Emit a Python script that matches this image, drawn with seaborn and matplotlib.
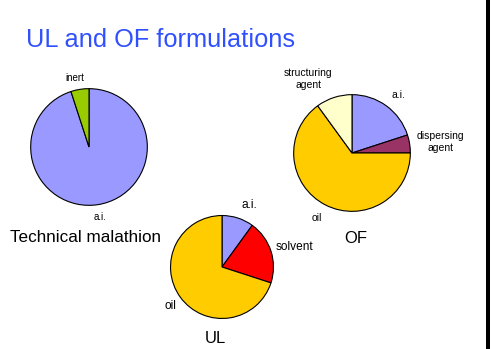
import matplotlib
matplotlib.use("Agg")
import matplotlib.pyplot as plt
import seaborn as sns
from matplotlib.patches import Rectangle

sns.set_theme(style="white")
plt.rcParams['font.family'] = ['Liberation Sans', 'DejaVu Sans']

# ---- data ----
title = "UL and OF formulations"

tech_labels = ["a.i.", "inert"]
tech_values = [95, 5]
tech_colors = ["#9999FF", "#99CC00"]
tech_caption = "Technical malathion"

of_labels = ["a.i.", "dispersing\nagent", "oil", "structuring\nagent"]
of_values = [20, 5, 65, 10]
of_colors = ["#9999FF", "#993366", "#FFCC00", "#FFFFCC"]
of_caption = "OF"

ul_labels = ["a.i.", "solvent", "oil"]
ul_values = [10, 20, 70]
ul_colors = ["#9999FF", "#FF0000", "#FFCC00"]
ul_caption = "UL"

W, H = 491, 349
fig = plt.figure(figsize=(W / 100, H / 100), dpi=100)
fig.patch.set_facecolor("white")


def px(x, y):
    return x / W, (H - y) / H


def pie_axes(cx, cy, r):
    ax = fig.add_axes([(cx - r) / W, (H - cy - r) / H, 2 * r / W, 2 * r / H])
    ax.set_xlim(-1, 1)
    ax.set_ylim(-1, 1)
    ax.set_aspect("equal")
    ax.axis("off")
    return ax


def draw_pie(ax, values, colors):
    ax.pie(values, colors=colors, startangle=90, counterclock=False, radius=1,
           wedgeprops=dict(edgecolor="black", linewidth=0.8))
    ax.set_xlim(-1.02, 1.02)
    ax.set_ylim(-1.02, 1.02)


# Technical malathion
ax1 = pie_axes(89, 147, 59.5)
draw_pie(ax1, tech_values, tech_colors)
tech_pos = [(100, 217), (75, 78)]
for lab, (x, y) in zip(tech_labels, tech_pos):
    fig.text(*px(x, y), lab, ha="center", va="center", fontsize=7, color="black")
fig.text(*px(10, 242), tech_caption, ha="left", va="baseline", fontsize=12.3, color="black")

# OF
ax2 = pie_axes(352, 153, 59.5)
draw_pie(ax2, of_values, of_colors)
of_pos = [(398, 95), (440, 142), (317, 218), (308, 79.5)]
for lab, (x, y) in zip(of_labels, of_pos):
    fig.text(*px(x, y), lab, ha="center", va="center", fontsize=7.5, color="black",
             linespacing=1.25)
fig.text(*px(356, 242.7), of_caption, ha="center", va="baseline", fontsize=12, color="black")

# UL
ax3 = pie_axes(222, 267, 52.5)
draw_pie(ax3, ul_values, ul_colors)
ul_pos = [(249, 205), (295, 247), (170, 306)]
for lab, (x, y) in zip(ul_labels, ul_pos):
    fig.text(*px(x, y), lab, ha="center", va="center", fontsize=8.6, color="black")
fig.text(*px(215, 343), ul_caption, ha="center", va="baseline", fontsize=12, color="black")

# Title
fig.text(*px(26, 47), title, ha="left", va="baseline", fontsize=18.3, color="#3050FF")

# right border strip
fig.add_artist(Rectangle((486 / W, 0), 4 / W, 1, transform=fig.transFigure,
                         facecolor="black", edgecolor="none"))

fig.savefig("out.png", dpi=100, facecolor="white")
